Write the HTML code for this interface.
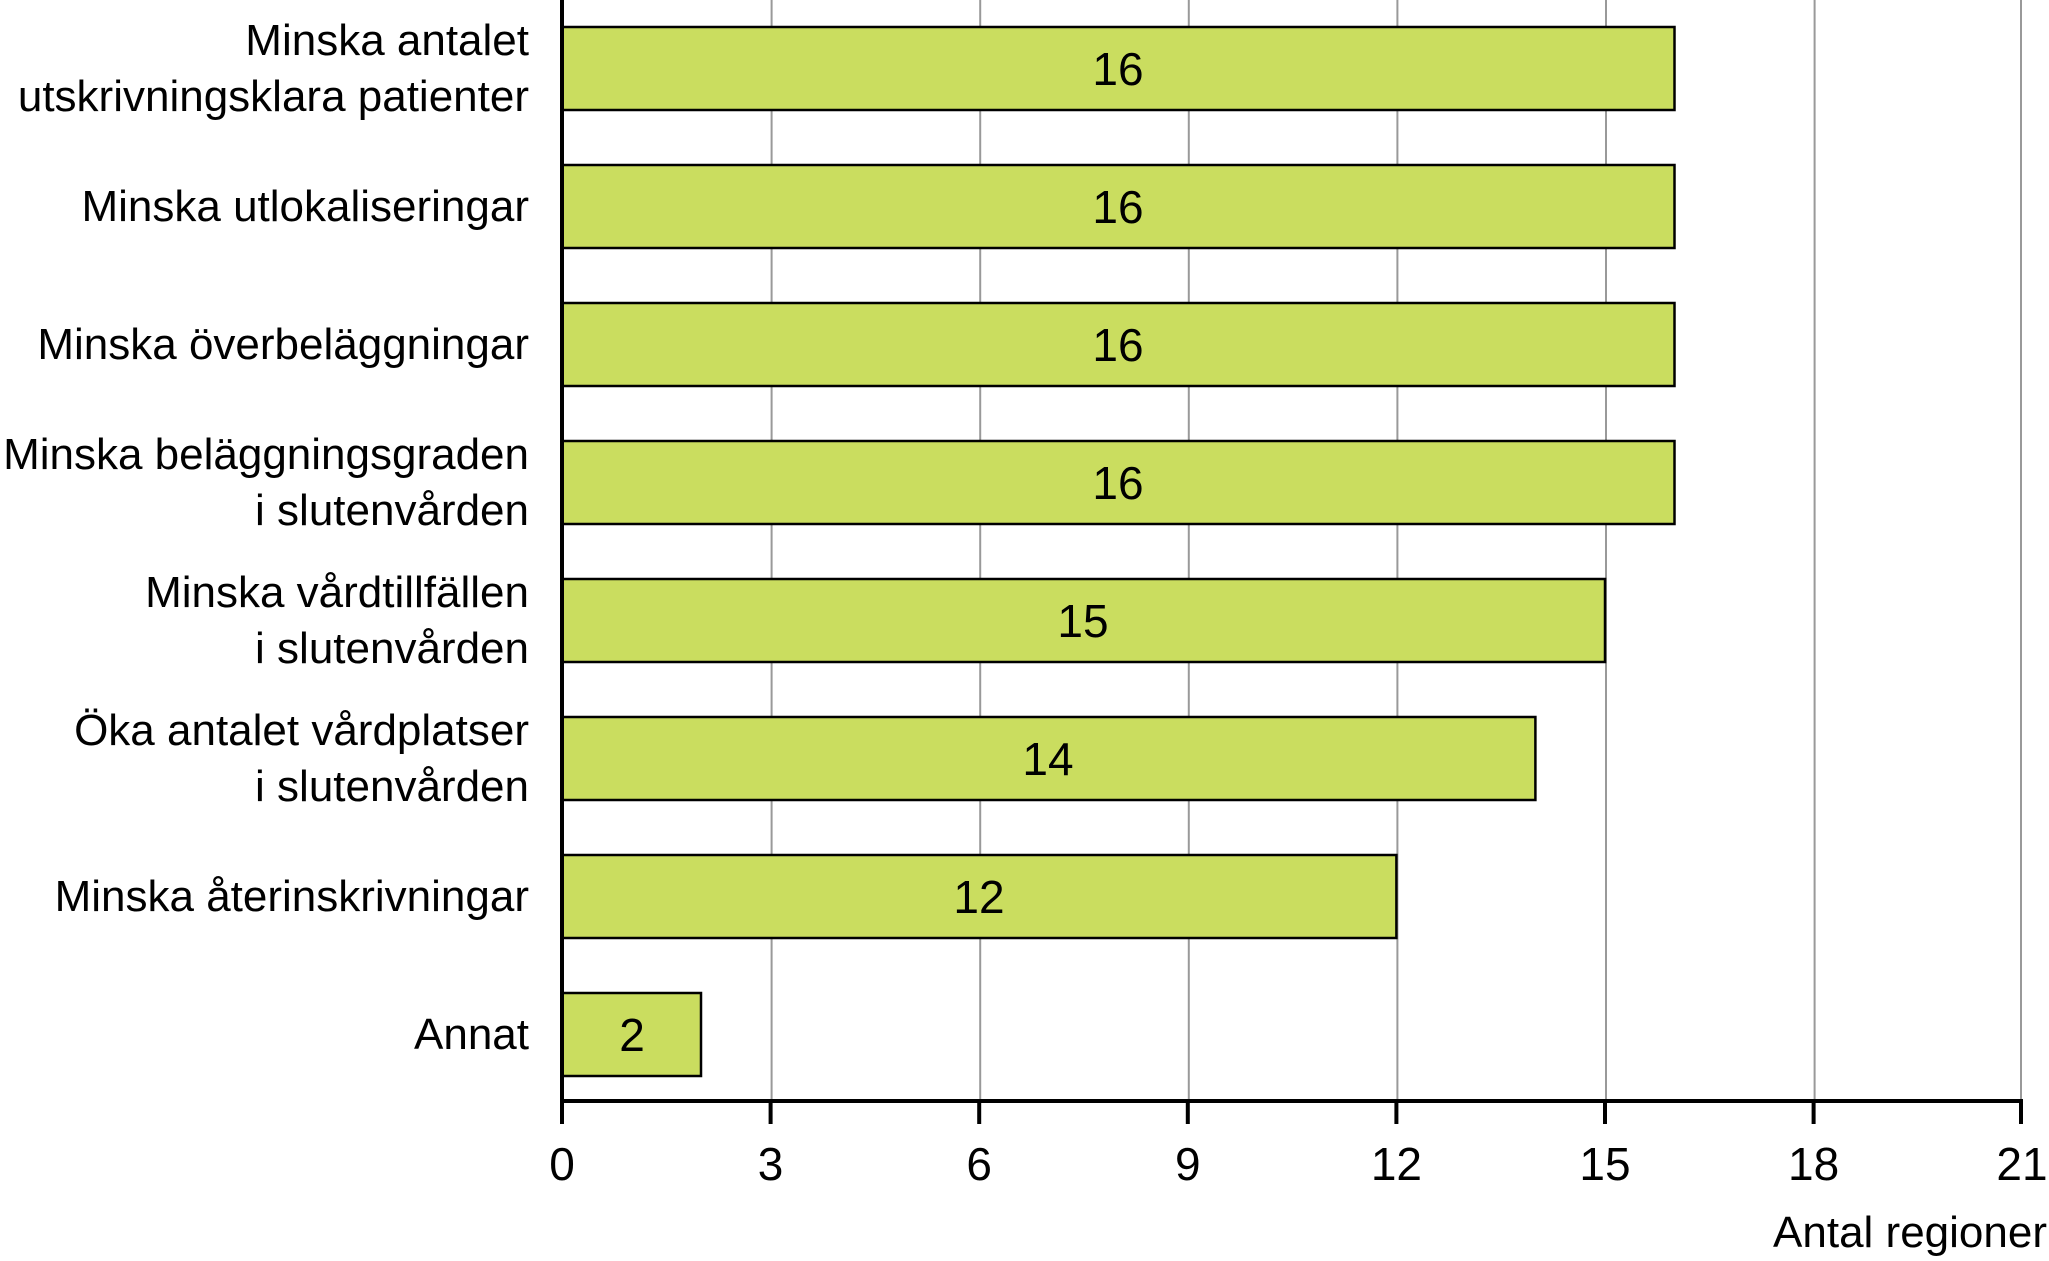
<!DOCTYPE html>
<html><head><meta charset="utf-8"><style>
html,body{margin:0;padding:0;background:#fff;}
svg{display:block;}
text{font-family:"Liberation Sans",sans-serif;fill:#000;}
</style></head><body>
<svg width="2049" height="1261" viewBox="0 0 2049 1261" xmlns="http://www.w3.org/2000/svg">
<g stroke="#999" stroke-width="2">
<line x1="771.6" y1="0" x2="771.6" y2="1100"/>
<line x1="980.2" y1="0" x2="980.2" y2="1100"/>
<line x1="1188.8" y1="0" x2="1188.8" y2="1100"/>
<line x1="1397.4" y1="0" x2="1397.4" y2="1100"/>
<line x1="1606" y1="0" x2="1606" y2="1100"/>
<line x1="1814.6" y1="0" x2="1814.6" y2="1100"/>
<line x1="2021" y1="0" x2="2021" y2="1100"/>
</g>
<g fill="#cadd5f" stroke="#000" stroke-width="2.5">
<rect x="562" y="27" width="1112.5" height="83"/>
<rect x="562" y="165" width="1112.5" height="83"/>
<rect x="562" y="303" width="1112.5" height="83"/>
<rect x="562" y="441" width="1112.5" height="83"/>
<rect x="562" y="579" width="1043" height="83"/>
<rect x="562" y="717" width="973.4" height="83"/>
<rect x="562" y="855" width="834.4" height="83"/>
<rect x="562" y="993" width="139" height="83"/>
</g>
<g stroke="#000" stroke-width="4">
<line x1="562" y1="0" x2="562" y2="1102"/>
<line x1="560" y1="1101" x2="2023" y2="1101"/>
<line x1="562" y1="1101" x2="562" y2="1124"/>
<line x1="770.6" y1="1101" x2="770.6" y2="1124"/>
<line x1="979.2" y1="1101" x2="979.2" y2="1124"/>
<line x1="1187.8" y1="1101" x2="1187.8" y2="1124"/>
<line x1="1396.4" y1="1101" x2="1396.4" y2="1124"/>
<line x1="1605" y1="1101" x2="1605" y2="1124"/>
<line x1="1813.6" y1="1101" x2="1813.6" y2="1124"/>
<line x1="2021" y1="1101" x2="2021" y2="1124"/>
</g>
<g font-size="46" text-anchor="middle">
<text x="1118" y="85">16</text>
<text x="1118" y="223">16</text>
<text x="1118" y="361">16</text>
<text x="1118" y="499">16</text>
<text x="1083" y="637">15</text>
<text x="1048" y="775">14</text>
<text x="979" y="913">12</text>
<text x="632" y="1051">2</text>
</g>
<g font-size="46" text-anchor="middle">
<text x="562" y="1180">0</text>
<text x="770.6" y="1180">3</text>
<text x="979.2" y="1180">6</text>
<text x="1187.8" y="1180">9</text>
<text x="1396.4" y="1180">12</text>
<text x="1605" y="1180">15</text>
<text x="1813.6" y="1180">18</text>
<text x="2022" y="1180">21</text>
</g>
<text x="2047" y="1247" font-size="44" text-anchor="end">Antal regioner</text>
<g font-size="44" text-anchor="end">
<text x="529" y="55">Minska antalet</text>
<text x="529" y="111">utskrivningsklara patienter</text>
<text x="529" y="221">Minska utlokaliseringar</text>
<text x="529" y="359">Minska överbeläggningar</text>
<text x="529" y="469">Minska beläggningsgraden</text>
<text x="529" y="525">i slutenvården</text>
<text x="529" y="607">Minska vårdtillfällen</text>
<text x="529" y="663">i slutenvården</text>
<text x="529" y="745">Öka antalet vårdplatser</text>
<text x="529" y="801">i slutenvården</text>
<text x="529" y="911">Minska återinskrivningar</text>
<text x="529" y="1049">Annat</text>
</g>
</svg>
</body></html>
